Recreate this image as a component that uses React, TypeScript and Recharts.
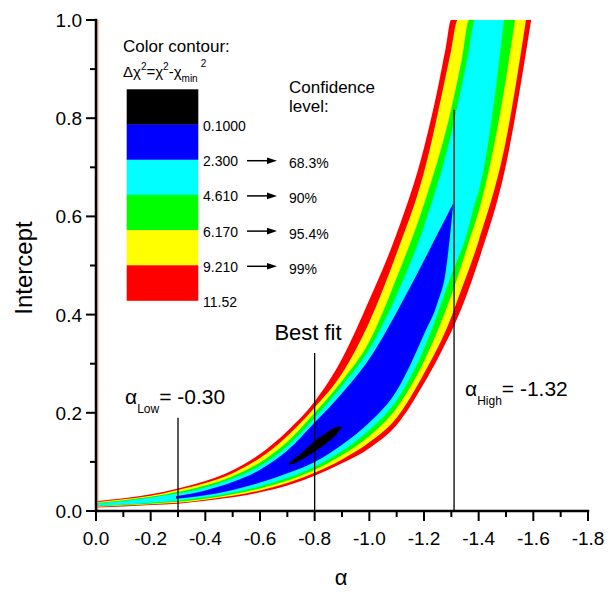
import React from 'react';
import { ComposedChart, Area, XAxis, YAxis, ReferenceLine } from 'recharts';

// band edges (upper edges capped at the 1.0 frame)
const redAlpha = [0, -0.1, -0.2, -0.3, -0.4, -0.5, -0.6, -0.7, -0.8, -0.9, -1.0, -1.1, -1.2, -1.25, -1.28, -1.299, -1.4, -1.5, -1.592];
const redLow = [0.007, 0.009, 0.012, 0.015, 0.021, 0.028, 0.038, 0.052, 0.072, 0.097, 0.128, 0.175, 0.26, 0.31, 0.343, 0.364, 0.51, 0.705, 1.0];
const redHigh = [0.02, 0.026, 0.034, 0.046, 0.061, 0.083, 0.116, 0.163, 0.223, 0.31, 0.43, 0.565, 0.74, 0.86, 0.945, 1, 1, 1, 1];

const yelAlpha = [0, -0.1, -0.2, -0.3, -0.4, -0.5, -0.6, -0.7, -0.8, -0.9, -1.0, -1.1, -1.2, -1.3, -1.323, -1.4, -1.5, -1.573];
const yelLow = [0.0085, 0.011, 0.014, 0.017, 0.023, 0.031, 0.042, 0.057, 0.078, 0.105, 0.14, 0.19, 0.28, 0.395, 0.43, 0.55, 0.755, 1.0];
const yelHigh = [0.018, 0.024, 0.031, 0.043, 0.057, 0.077, 0.108, 0.153, 0.211, 0.28, 0.385, 0.525, 0.69, 0.94, 1, 1, 1, 1];

const grnAlpha = [0, -0.1, -0.2, -0.3, -0.4, -0.5, -0.6, -0.7, -0.8, -0.9, -1.0, -1.1, -1.2, -1.3, -1.34, -1.365, -1.4, -1.5, -1.533];
const grnLow = [0.0095, 0.012, 0.015, 0.019, 0.025, 0.034, 0.046, 0.062, 0.084, 0.114, 0.153, 0.21, 0.305, 0.44, 0.505, 0.55, 0.61, 0.88, 1.0];
const grnHigh = [0.0165, 0.022, 0.029, 0.039, 0.052, 0.071, 0.099, 0.141, 0.2, 0.265, 0.345, 0.475, 0.625, 0.82, 0.925, 1, 1, 1, 1];

const cynAlpha = [0, -0.1, -0.2, -0.3, -0.4, -0.5, -0.6, -0.7, -0.8, -0.9, -1.0, -1.1, -1.2, -1.3, -1.36, -1.387, -1.4, -1.493];
const cynLow = [0.0105, 0.013, 0.017, 0.021, 0.028, 0.037, 0.05, 0.067, 0.09, 0.122, 0.165, 0.225, 0.33, 0.48, 0.57, 0.628, 0.65, 1.0];
const cynHigh = [0.015, 0.02, 0.027, 0.036, 0.048, 0.066, 0.092, 0.132, 0.19, 0.255, 0.33, 0.44, 0.58, 0.77, 0.925, 1, 1, 1];

const bluAlpha = [-0.293, -0.4, -0.5, -0.6, -0.7, -0.8, -0.9, -1.0, -1.1, -1.2, -1.25, -1.28, -1.295, -1.307];
const bluLow = [0.025, 0.032, 0.043, 0.058, 0.077, 0.1, 0.135, 0.18, 0.245, 0.36, 0.425, 0.49, 0.56, 0.627];
const bluHigh = [0.03, 0.042, 0.059, 0.084, 0.123, 0.18, 0.24, 0.31, 0.405, 0.51, 0.565, 0.597, 0.614, 0.627];

const blkAlpha = [-0.7, -0.72, -0.75, -0.8, -0.85, -0.88, -0.9];
const blkLow = [0.094, 0.096, 0.104, 0.121, 0.141, 0.156, 0.172];
const blkHigh = [0.094, 0.104, 0.117, 0.142, 0.162, 0.171, 0.172];

const xTicks = [0, -0.1, -0.2, -0.3, -0.4, -0.5, -0.6, -0.7, -0.8, -0.9, -1.0, -1.1, -1.2, -1.3, -1.4, -1.5, -1.6, -1.7, -1.8];
const yTicks = [0, 0.1, 0.2, 0.3, 0.4, 0.5, 0.6, 0.7, 0.8, 0.9, 1.0];

const legendLevels = ['0.1000', '2.300', '4.610', '6.170', '9.210', '11.52'];
const legendColors = ['#000000', '#0000ff', '#00ffff', '#00ff00', '#ffff00', '#ff0000'];
const confidence = ['68.3%', '90%', '95.4%', '99%'];

// vertical markers: [alpha, top of line]
const alphaLow = [-0.3, 0.19];
const bestFit = [-0.8, 0.322];
const alphaHigh = [-1.31, 0.817];

const FONT = "'Liberation Sans', Arial, sans-serif";

const band = (alpha: number[], low: number[], high: number[]) =>
  alpha.map((a, i) => ({ a, range: [low[i], high[i]] }));

const isMajor = (v: number) => Math.round(Math.abs(v) * 10) % 2 === 0;
const fmt = (v: number) => (Math.abs(v) < 1e-9 ? '0.0' : v.toFixed(1));

function BottomTick(props: any) {
  const { x, y, payload } = props;
  const major = isMajor(payload.value);
  return (
    <g>
      <line x1={x} x2={x} y1={y} y2={y + (major ? 10 : 6)} stroke="#000" strokeWidth={2} />
      {major && (
        <text x={x} y={y + 34} textAnchor="middle" fontSize={19} fontFamily={FONT} fill="#000">
          {fmt(payload.value)}
        </text>
      )}
    </g>
  );
}

function LeftTick(props: any) {
  const { x, y, payload } = props;
  const major = isMajor(payload.value);
  return (
    <g>
      <line x1={x} x2={x - (major ? 10 : 6)} y1={y} y2={y} stroke="#000" strokeWidth={2} />
      {major && (
        <text x={x - 14} y={y + 7} textAnchor="end" fontSize={19} fontFamily={FONT} fill="#000">
          {fmt(payload.value)}
        </text>
      )}
    </g>
  );
}

function TopTick(props: any) {
  const { x, y, payload } = props;
  const major = isMajor(payload.value);
  return <line x1={x} x2={x} y1={y} y2={y + (major ? 10 : 6)} stroke="#000" strokeWidth={2} />;
}

function RightTick(props: any) {
  const { x, y, payload } = props;
  const major = isMajor(payload.value);
  return <line x1={x} x2={x - (major ? 10 : 6)} y1={y} y2={y} stroke="#000" strokeWidth={2} />;
}

function Arrow({ y }: { y: number }) {
  return (
    <g>
      <line x1={247} x2={268} y1={y} y2={y} stroke="#000" strokeWidth={1.5} />
      <path d={`M267,${y - 3.3} L277,${y} L267,${y + 3.3} Z`} fill="#000" />
    </g>
  );
}

function Overlay() {
  const top = 89.3;
  const h = 35.2;
  return (
    <svg
      width={610}
      height={600}
      style={{ position: 'absolute', left: 0, top: 0, pointerEvents: 'none' }}
      fontFamily={FONT}
    >
      <text x={123} y={51.5} fontSize={17}>Color contour:</text>
      <text x={123} y={77} fontSize={15}>
        Δχ<tspan dy={-7} fontSize={10}>2</tspan>
        <tspan dy={7}>=χ</tspan>
        <tspan dy={-7} fontSize={10}>2</tspan>
        <tspan dy={7}>-χ</tspan>
        <tspan dy={5} fontSize={10}>min</tspan>
        <tspan dy={-15} dx={3} fontSize={10}>2</tspan>
      </text>
      {legendColors.map((c, i) => (
        <rect key={c} x={126.7} y={top + i * h} width={71.6} height={h + 0.3} fill={c} />
      ))}
      {legendLevels.map((t, i) => (
        <text key={t} x={203} y={top + (i + 1) * h + 6.5} fontSize={14}>{t}</text>
      ))}
      <text x={289} y={93} fontSize={17}>Confidence</text>
      <text x={289} y={112} fontSize={17}>level:</text>
      {confidence.map((t, i) => (
        <g key={t}>
          <Arrow y={top + (i + 2) * h + 1} />
          <text x={289} y={top + (i + 2) * h + 8.5} fontSize={14}>{t}</text>
        </g>
      ))}
      <text x={308} y={339.5} fontSize={22} textAnchor="middle">Best fit</text>
      <text x={125} y={404} fontSize={21}>
        α<tspan dy={9} fontSize={12}>Low</tspan>
        <tspan dy={-9}>= -0.30</tspan>
      </text>
      <text x={465} y={396} fontSize={21}>
        α<tspan dy={9} fontSize={12}>High</tspan>
        <tspan dy={-9}>= -1.32</tspan>
      </text>
      <text x={24} y={268} fontSize={24} textAnchor="middle" transform="rotate(-90 24 268)" dy={8}>
        Intercept
      </text>
      <text x={341} y={585} fontSize={22} textAnchor="middle">α</text>
    </svg>
  );
}

export default function App() {
  const regions = [
    { key: 'red', color: '#ff0000', data: band(redAlpha, redLow, redHigh) },
    { key: 'yel', color: '#ffff00', data: band(yelAlpha, yelLow, yelHigh) },
    { key: 'grn', color: '#00ff00', data: band(grnAlpha, grnLow, grnHigh) },
    { key: 'cyn', color: '#00ffff', data: band(cynAlpha, cynLow, cynHigh) },
    { key: 'blu', color: '#0000ff', data: band(bluAlpha, bluLow, bluHigh) },
    { key: 'blk', color: '#000000', data: band(blkAlpha, blkLow, blkHigh) },
  ];
  const markers = [alphaLow, bestFit, alphaHigh];
  const frame = { stroke: '#000', strokeWidth: 2.5, strokeLinecap: 'square' as const };

  return (
    <div style={{ position: 'absolute', left: 0, top: 0, width: 610, height: 600, background: '#fff' }}>
      <ComposedChart width={610} height={600} margin={{ top: 20, right: 22, bottom: 44, left: 36 }}>
        {regions.map((r) => (
          <Area
            key={r.key}
            data={r.data}
            dataKey="range"
            type="monotone"
            stroke="none"
            fill={r.color}
            fillOpacity={1}
            dot={false}
            activeDot={false}
            isAnimationActive={false}
          />
        ))}
        <ReferenceLine x={-0.007} stroke="#f0a040" strokeWidth={1} />
        {markers.map(([a, top]) => (
          <ReferenceLine
            key={a}
            segment={[{ x: a, y: 0 }, { x: a, y: top }]}
            stroke="#000"
            strokeWidth={1.3}
          />
        ))}
        <XAxis
          dataKey="a"
          type="number"
          domain={[-1.8, 0]}
          reversed
          allowDataOverflow
          ticks={xTicks}
          interval={0}
          height={45}
          tickSize={0}
          tickMargin={0}
          tickLine={false}
          axisLine={frame}
          tick={(p: any) => <BottomTick {...p} />}
        />
        <XAxis
          xAxisId="top"
          orientation="top"
          dataKey="a"
          type="number"
          domain={[-1.8, 0]}
          reversed
          allowDataOverflow
          ticks={xTicks}
          interval={0}
          height={0}
          tickSize={0}
          tickMargin={0}
          tickLine={false}
          axisLine={frame}
          tick={(p: any) => <TopTick {...p} />}
        />
        <YAxis
          type="number"
          domain={[0, 1]}
          allowDataOverflow
          ticks={yTicks}
          interval={0}
          width={60}
          tickSize={0}
          tickMargin={0}
          tickLine={false}
          axisLine={frame}
          tick={(p: any) => <LeftTick {...p} />}
        />
        <YAxis
          yAxisId="right"
          orientation="right"
          type="number"
          domain={[0, 1]}
          allowDataOverflow
          ticks={yTicks}
          interval={0}
          width={0}
          tickSize={0}
          tickMargin={0}
          tickLine={false}
          axisLine={frame}
          tick={(p: any) => <RightTick {...p} />}
        />
      </ComposedChart>
      <Overlay />
    </div>
  );
}
